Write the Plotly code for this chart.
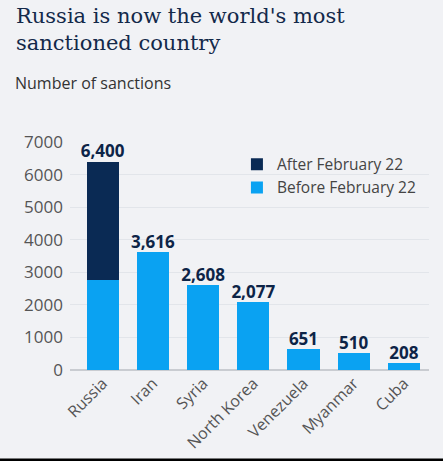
import plotly.graph_objects as go

countries = ["Russia", "Iran", "Syria", "North Korea", "Venezuela", "Myanmar", "Cuba"]
before_feb22 = [2760, 3616, 2608, 2077, 651, 510, 208]
after_feb22 = [3640, 0, 0, 0, 0, 0, 0]
totals = [6400, 3616, 2608, 2077, 651, 510, 208]
total_labels = ["6,400", "3,616", "2,608", "2,077", "651", "510", "208"]

navy = "#0a2a54"
blue = "#0aa2f2"
bg = "#f1f2f5"

fig = go.Figure()
fig.add_trace(go.Bar(x=countries, y=before_feb22, name="Before February 22",
                     marker=dict(color=blue, line=dict(width=0))))
fig.add_trace(go.Bar(x=countries, y=after_feb22, name="After February 22",
                     marker=dict(color=navy, line=dict(width=0))))
# value labels above each bar
fig.add_trace(go.Scatter(x=countries, y=totals, mode="text", text=total_labels,
                         textposition="top center", showlegend=False, cliponaxis=False,
                         textfont=dict(family="Open Sans", size=17, color="#0d2447", weight="bold")))

fig.update_layout(
    width=443, height=461, autosize=False,
    barmode="stack", bargap=0.36,
    paper_bgcolor=bg, plot_bgcolor=bg,
    margin=dict(l=70, r=14, t=142, b=91),
    font=dict(family="Open Sans", color="#555555"),
    showlegend=True,
    legend=dict(x=0.465, y=0.975, xanchor="left", yanchor="top", traceorder="reversed",
                bgcolor="rgba(0,0,0,0)", font=dict(size=15.5, color="#444444"),
                itemsizing="constant", tracegroupgap=0, itemwidth=30),
    xaxis=dict(range=[-0.65, 6.5], tickangle=-45, showgrid=False, ticks="", automargin=False,
               tickfont=dict(size=16, color="#555555")),
    yaxis=dict(range=[0, 7000], dtick=1000, showgrid=True, gridcolor="#e2e5ea", gridwidth=1,
               zeroline=True, zerolinecolor="#c9ccd1", zerolinewidth=1.5, automargin=False,
               tickfont=dict(size=17, color="#555555"), ticklabelstandoff=6),
    annotations=[
        dict(text="Russia is now the world's most<br>sanctioned country", xref="paper", yref="paper",
             x=-56 / 359, y=(370 - 2) / 228, xanchor="left", yanchor="top", showarrow=False, align="left",
             font=dict(family="DejaVu Serif", size=21, color="#13294a")),
        dict(text="Number of sanctions", xref="paper", yref="paper",
             x=-57 / 359, y=(370 - 70) / 228, xanchor="left", yanchor="top", showarrow=False,
             font=dict(family="Open Sans", size=16, color="#333333")),
    ],
    shapes=[
        dict(type="rect", xref="paper", yref="paper", x0=-0.3, x1=1.2,
             y0=(370 - 462) / 228, y1=(370 - 458.5) / 228, fillcolor="black", line=dict(width=0)),
    ],
)

fig.write_html("out.html", config={"displayModeBar": False, "responsive": False},
               post_script="document.body.style.margin='0';")
